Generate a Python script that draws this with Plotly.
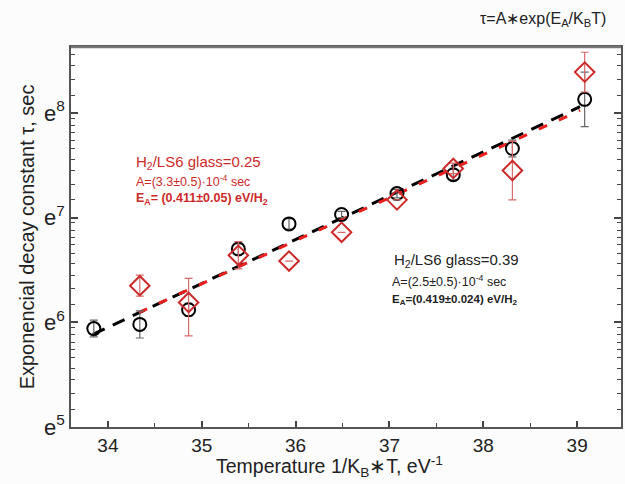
import numpy as np
import plotly.graph_objects as go

# ---------------- data ----------------
x_039 = [33.85, 34.34, 34.86, 35.39, 35.93, 36.49, 37.08, 37.68, 38.31, 39.08]
ln_tau_039 = [5.94, 5.98, 6.12, 6.70, 6.94, 7.03, 7.23, 7.41, 7.66, 8.13]
err_039 = [0.08, 0.13, 0.06, 0.05, 0.05, 0.03, 0.04, 0.05, 0.08, 0.26]

x_025 = [34.34, 34.86, 35.39, 35.93, 36.49, 37.08, 37.68, 38.31, 39.08]
ln_tau_025 = [6.35, 6.19, 6.64, 6.585, 6.86, 7.17, 7.47, 7.45, 8.39]
err_025_plus = [0.10, 0.23, 0.13, 0.0, 0.0, 0.0, 0.05, 0.28, 0.19]
err_025_minus = [0.10, 0.32, 0.13, 0.0, 0.0, 0.0, 0.05, 0.28, 0.19]

# fit parameters: tau = A*exp(EA*x)
A_039, EA_039, fit_range_039 = 2.5e-4, 0.419, [33.84, 39.03]
A_025, EA_025, fit_range_025 = 3.3e-4, 0.411, [34.33, 39.03]

x_ticks = [34, 35, 36, 37, 38, 39]
y_ticks = [5, 6, 7, 8]
y_ticktext = ["e<sup>5</sup>", "e<sup>6</sup>", "e<sup>7</sup>", "e<sup>8</sup>"]

# ---------------- figure ----------------
W, H = 625, 484
L, R, T, B = 71, 2, 47, 57
x_range = [33.607, 39.467]
y_range = [5.0, 8.63]

def px(xp, yp):
    return (xp - L) / (W - L - R), (H - B - yp) / (H - T - B)

RED = "#cc2a2a"
font = "Arial, Liberation Sans, sans-serif"

fig = go.Figure()

def fit_line(A, EA, rng):
    xs = np.array(rng)
    return xs, np.log(A) + EA * xs

fx, fy = fit_line(A_039, EA_039, fit_range_039)
fig.add_trace(go.Scatter(x=fx, y=fy, mode="lines",
                         line=dict(color="black", width=3, dash="13px,9px"),
                         showlegend=False, hoverinfo="skip"))
fx2, fy2 = fit_line(A_025, EA_025, fit_range_025)
fig.add_trace(go.Scatter(x=fx2, y=fy2, mode="lines",
                         line=dict(color="#e8201e", width=3, dash="9px,13px"),
                         showlegend=False, hoverinfo="skip"))

fig.add_trace(go.Scatter(
    x=x_039, y=ln_tau_039, mode="markers",
    marker=dict(symbol="circle-open", size=13, color="black", line=dict(width=2)),
    error_y=dict(type="data", array=err_039, color="#666666", thickness=1.2, width=4),
    showlegend=False))

fig.add_trace(go.Scatter(
    x=x_025, y=ln_tau_025, mode="markers",
    marker=dict(symbol="diamond-open", size=15, color=RED, line=dict(width=2)),
    error_y=dict(type="data", array=err_025_plus, arrayminus=err_025_minus,
                 symmetric=False, color="#d96a6a", thickness=1.2, width=4),
    showlegend=False))

# minor tick positions on the e-base log axis
fr = [0.17, 0.32, 0.45, 0.56, 0.66, 0.74, 0.81, 0.88, 0.95]
y_minor = [n + f for n in [5, 6, 7, 8] for f in fr if n + f < y_range[1]]

fig.update_xaxes(range=x_range, tickvals=x_ticks, ticks="inside", ticklen=6,
                 tickwidth=1.5, tickcolor="#444", showline=True, linecolor="#555",
                 linewidth=1.5, mirror=True, showgrid=False, zeroline=False,
                 tickfont=dict(size=19, color="#222", family=font),
                 minor=dict(tickvals=[34.5, 35.5, 36.5, 37.5, 38.5], ticks="inside",
                            ticklen=4, tickwidth=1.2, tickcolor="#444"))
fig.update_yaxes(range=y_range, tickvals=y_ticks, ticktext=y_ticktext,
                 ticks="inside", ticklen=7, tickwidth=1.5, tickcolor="#444",
                 showline=True, linecolor="#555", linewidth=1.5, mirror="ticks",
                 showgrid=False, zeroline=False,
                 tickfont=dict(size=22, color="#222", family=font),
                 minor=dict(tickvals=y_minor, ticks="inside", ticklen=4,
                            tickwidth=1.2, tickcolor="#444"),
                 title=dict(text="Exponencial decay constant τ, sec",
                            font=dict(size=20, color="#222", family=font), standoff=4))

# thicker gray top frame line as in the reference
fig.add_shape(type="line", xref="paper", yref="paper", x0=0, x1=1, y0=1, y1=1,
              line=dict(color="#777", width=2.5))

ann = []
def add_text(xp, yp, text, size, color, xanchor="left"):
    ax, ay = px(xp, yp)
    ann.append(dict(x=ax, y=ay, xref="paper", yref="paper", text=text,
                    showarrow=False, xanchor=xanchor, yanchor="middle",
                    font=dict(size=size, color=color, family=font)))

add_text(330, 467, "Temperature 1/K<sub>B</sub>∗T, eV<sup>-1</sup>", 19.5, "#222", xanchor="center")
add_text(610, 20, "τ=A∗exp(E<sub>A</sub>/K<sub>B</sub>T)", 16, "#222", xanchor="right")

add_text(134, 162, "H<sub>2</sub>/LS6 glass=0.25", 15, RED)
add_text(134, 181, "A=(3.3±0.5)·10<sup>-4</sup> sec", 12.5, RED)
add_text(134, 199, "<b>E<sub>A</sub>= (0.411±0.05) eV/H<sub>2</sub></b>", 12.5, RED)

add_text(393, 260, "H<sub>2</sub>/LS6 glass=0.39", 15, "#222")
add_text(391, 281, "A=(2.5±0.5)·10<sup>-4</sup> sec", 12.5, "#222")
add_text(391, 300, "<b>E<sub>A</sub>=(0.419±0.024) eV/H<sub>2</sub></b>", 11.5, "#222")

fig.update_layout(width=W, height=H, margin=dict(l=L, r=R, t=T, b=B),
                  paper_bgcolor="#fcfcfc", plot_bgcolor="white",
                  annotations=ann, font=dict(family=font))

fig.write_html("out.html")
